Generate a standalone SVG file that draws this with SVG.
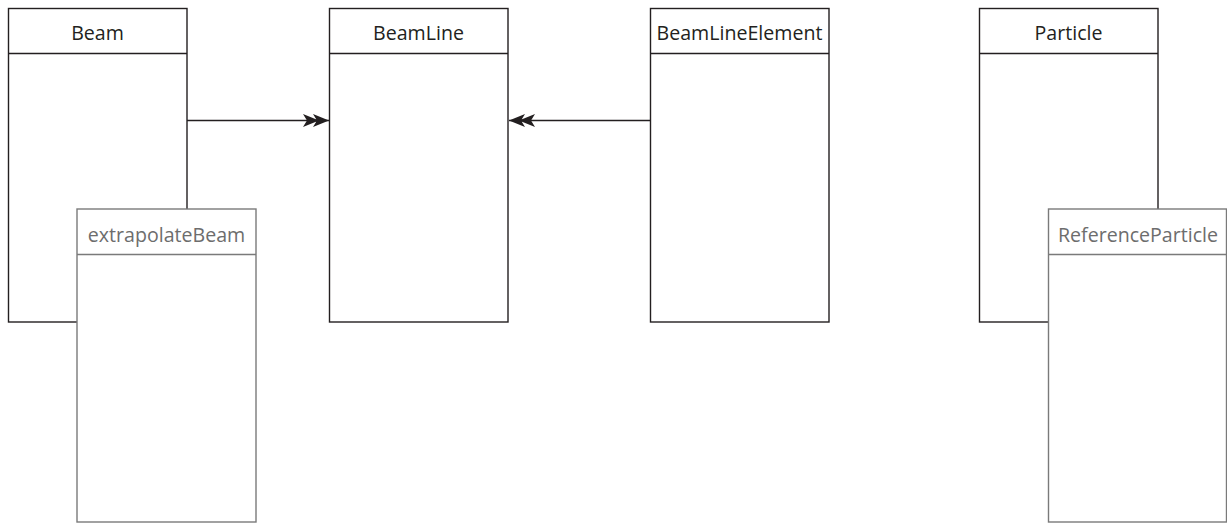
<svg xmlns="http://www.w3.org/2000/svg" width="1227" height="524" viewBox="0 0 1227 524">
  <style>
    .box { fill: #ffffff; stroke: #231f20; stroke-width: 1.4; }
    .sub { fill: #ffffff; stroke: #7a7a7a; stroke-width: 1.4; }
    .lbl { font-family: "Open Sans", "Liberation Sans", sans-serif; font-size: 19.6px; fill: #231f20; text-anchor: middle; }
    .sublbl { font-family: "Open Sans", "Liberation Sans", sans-serif; font-size: 19.6px; fill: #6d6d6d; text-anchor: middle; }
    .conn { fill: none; stroke: #231f20; stroke-width: 1.6; }
  </style>
  <defs>
    <marker id="dblhead" viewBox="0 0 26 14" refX="26" refY="7" markerWidth="26" markerHeight="14" markerUnits="userSpaceOnUse" orient="auto">
      <path d="M26,7 L10,0.5 L14,7 L10,13.5 Z M16,7 L0,0.5 L4,7 L0,13.5 Z" fill="#231f20"/>
    </marker>
  </defs>

  <rect width="1227" height="524" fill="#ffffff"/>

  <g id="beam">
    <rect class="box" x="8.5" y="8.5" width="178.5" height="313.5"/>
    <line class="box" x1="8.5" y1="53.5" x2="187" y2="53.5"/>
    <text class="lbl" x="97.5" y="40">Beam</text>
  </g>

  <g id="beamline">
    <rect class="box" x="329.5" y="8.5" width="178.5" height="313.5"/>
    <line class="box" x1="329.5" y1="53.5" x2="508" y2="53.5"/>
    <text class="lbl" x="418.5" y="40">BeamLine</text>
  </g>

  <g id="beamlineelement">
    <rect class="box" x="650.5" y="8.5" width="178.5" height="313.5"/>
    <line class="box" x1="650.5" y1="53.5" x2="829" y2="53.5"/>
    <text class="lbl" x="739.5" y="40">BeamLineElement</text>
  </g>

  <g id="particle">
    <rect class="box" x="979.5" y="8.5" width="178.5" height="313.5"/>
    <line class="box" x1="979.5" y1="53.5" x2="1158" y2="53.5"/>
    <text class="lbl" x="1068.5" y="40">Particle</text>
  </g>

  <g id="connectors">
    <line class="conn" x1="187" y1="120.5" x2="329" y2="120.5" marker-end="url(#dblhead)"/>
    <line class="conn" x1="650" y1="120.5" x2="509" y2="120.5" marker-end="url(#dblhead)"/>
  </g>

  <g id="extrapolatebeam">
    <rect class="sub" x="77" y="209" width="179" height="313"/>
    <line class="sub" x1="77" y1="254.5" x2="256" y2="254.5"/>
    <text class="sublbl" x="166.5" y="241.5">extrapolateBeam</text>
  </g>

  <g id="referenceparticle">
    <rect class="sub" x="1048.5" y="209" width="178" height="313"/>
    <line class="sub" x1="1048.5" y1="254.5" x2="1226.5" y2="254.5"/>
    <text class="sublbl" x="1138" y="241.5">ReferenceParticle</text>
  </g>
</svg>
